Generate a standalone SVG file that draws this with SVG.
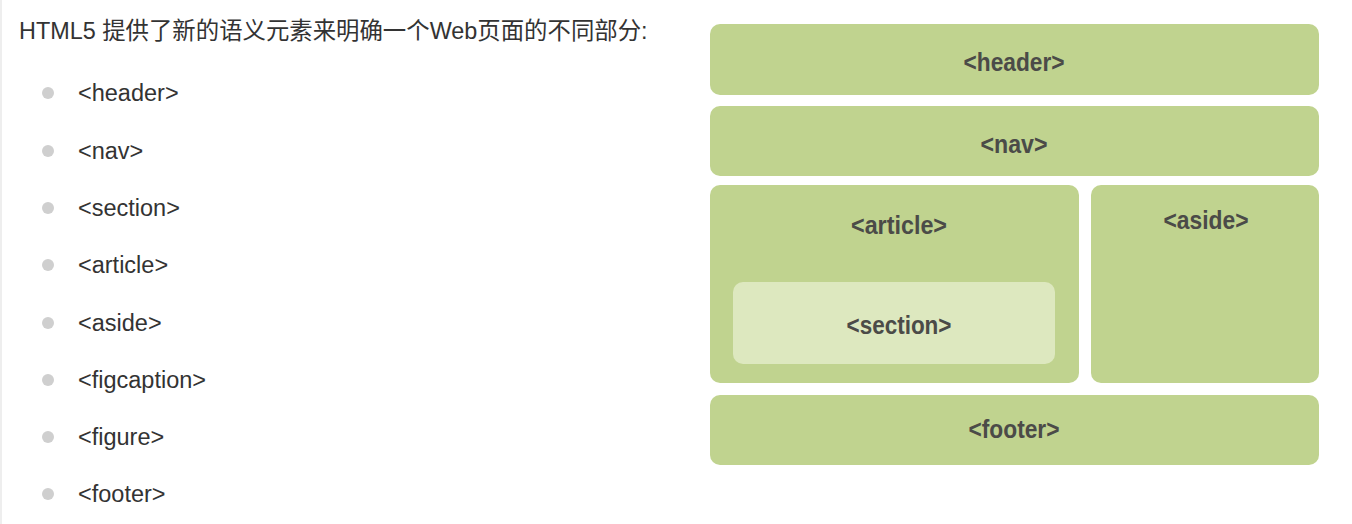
<svg xmlns="http://www.w3.org/2000/svg" width="1352" height="524" viewBox="0 0 1352 524">
<style>
.intro{font-family:"Liberation Sans","Noto Sans CJK SC",sans-serif;font-size:23.4px;fill:#333}
.item{font-family:"Liberation Sans",sans-serif;font-size:23.5px;fill:#333}
.dot{fill:#cfcfcf}
.box{fill:#c0d38f}
.inner{fill:#dde8bf}
.lbl{font-family:"Liberation Sans",sans-serif;font-weight:bold;font-size:25px;fill:#4b4b48;text-anchor:middle}
</style>
<rect x="0" y="0" width="1352" height="524" fill="#ffffff"/>
<rect x="0" y="0" width="2" height="524" fill="#eeeeee"/>
<text class="intro" x="19" y="39">HTML5 提供了新的语义元素来明确一个Web页面的不同部分:</text>
<g id="list">
<circle class="dot" cx="48" cy="93" r="6"/><text class="item" x="78" y="101">&lt;header&gt;</text>
<circle class="dot" cx="48" cy="151" r="6"/><text class="item" x="78" y="159">&lt;nav&gt;</text>
<circle class="dot" cx="48" cy="208" r="6"/><text class="item" x="78" y="216">&lt;section&gt;</text>
<circle class="dot" cx="48" cy="265" r="6"/><text class="item" x="78" y="273">&lt;article&gt;</text>
<circle class="dot" cx="48" cy="323" r="6"/><text class="item" x="78" y="331">&lt;aside&gt;</text>
<circle class="dot" cx="48" cy="380" r="6"/><text class="item" x="78" y="388">&lt;figcaption&gt;</text>
<circle class="dot" cx="48" cy="437" r="6"/><text class="item" x="78" y="445">&lt;figure&gt;</text>
<circle class="dot" cx="48" cy="494" r="6"/><text class="item" x="78" y="502">&lt;footer&gt;</text>
</g>
<g id="header"><rect class="box" x="710" y="24" width="609" height="71" rx="10"/><text class="lbl" x="1014" y="71" textLength="101" lengthAdjust="spacingAndGlyphs">&lt;header&gt;</text></g>
<g id="nav"><rect class="box" x="710" y="106" width="609" height="70" rx="10"/><text class="lbl" x="1014" y="153" textLength="67" lengthAdjust="spacingAndGlyphs">&lt;nav&gt;</text></g>
<g id="article"><rect class="box" x="710" y="185" width="369" height="198" rx="10"/><text class="lbl" x="899" y="234" textLength="96" lengthAdjust="spacingAndGlyphs">&lt;article&gt;</text></g>
<g id="section"><rect class="inner" x="733" y="282" width="322" height="82" rx="10"/><text class="lbl" x="899" y="334" textLength="105" lengthAdjust="spacingAndGlyphs">&lt;section&gt;</text></g>
<g id="aside"><rect class="box" x="1091" y="185" width="228" height="198" rx="10"/><text class="lbl" x="1206" y="229" textLength="85" lengthAdjust="spacingAndGlyphs">&lt;aside&gt;</text></g>
<g id="footer"><rect class="box" x="710" y="395" width="609" height="70" rx="10"/><text class="lbl" x="1014" y="438" textLength="91" lengthAdjust="spacingAndGlyphs">&lt;footer&gt;</text></g>
<g id="connectors"></g>
</svg>
